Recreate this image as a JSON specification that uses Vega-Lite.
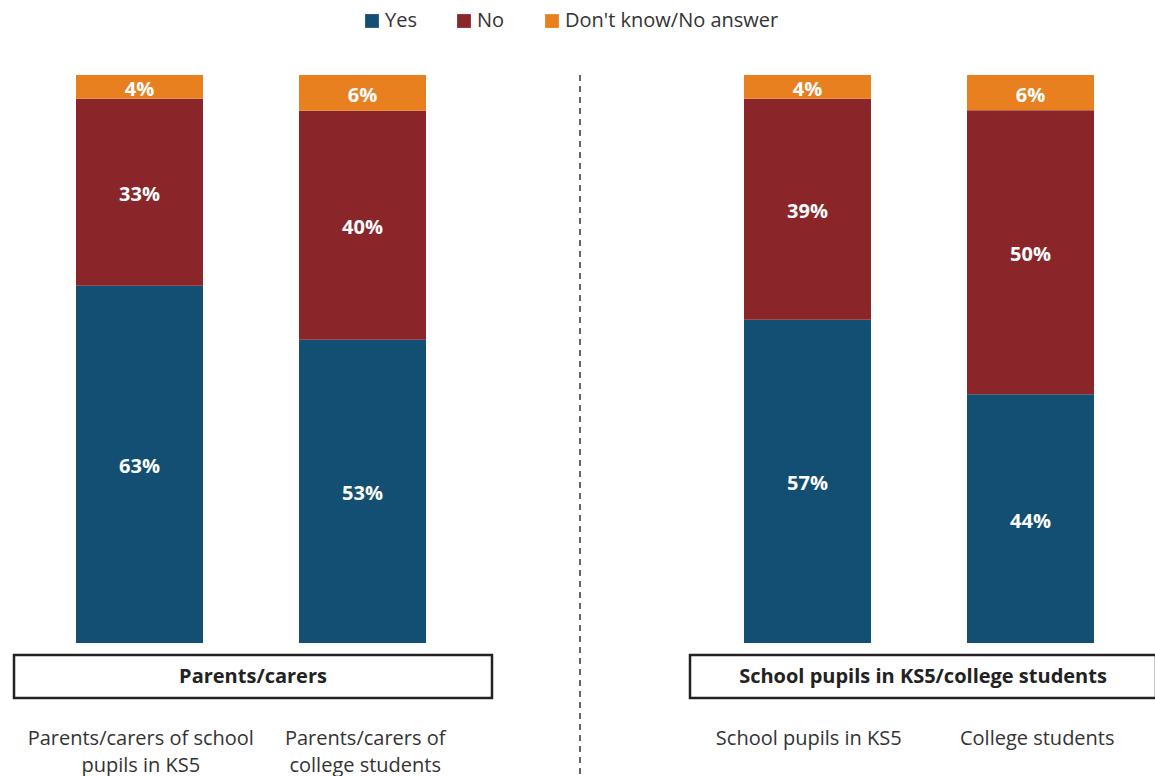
{
  "$schema": "https://vega.github.io/schema/vega-lite/v6.json",
  "padding": {"left": 12, "top": 11, "right": 0, "bottom": 0},
  "background": "white",
  "config": {
    "font": "Open Sans",
    "view": {"stroke": null},
    "legend": {
      "orient": "none",
      "legendX": 348,
      "legendY": -64,
      "direction": "horizontal",
      "title": null,
      "symbolType": "square",
      "symbolSize": 190,
      "symbolStrokeWidth": 0,
      "labelFontSize": 20,
      "labelColor": "#333333",
      "labelLimit": 0,
      "labelOffset": 3,
      "columnPadding": 37,
      "symbolOffset": 0
    }
  },
  "datasets": {
    "d": [
      {"grp": "Parents/carers", "cat": "Parents/carers of school|pupils in KS5", "resp": "Yes", "v": 0.629},
      {"grp": "Parents/carers", "cat": "Parents/carers of school|pupils in KS5", "resp": "No", "v": 0.329},
      {"grp": "Parents/carers", "cat": "Parents/carers of school|pupils in KS5", "resp": "Don't know/No answer", "v": 0.042},
      {"grp": "Parents/carers", "cat": "Parents/carers of|college students", "resp": "Yes", "v": 0.534},
      {"grp": "Parents/carers", "cat": "Parents/carers of|college students", "resp": "No", "v": 0.403},
      {"grp": "Parents/carers", "cat": "Parents/carers of|college students", "resp": "Don't know/No answer", "v": 0.063},
      {"grp": "School pupils in KS5/college students", "cat": "School pupils in KS5", "resp": "Yes", "v": 0.569},
      {"grp": "School pupils in KS5/college students", "cat": "School pupils in KS5", "resp": "No", "v": 0.389},
      {"grp": "School pupils in KS5/college students", "cat": "School pupils in KS5", "resp": "Don't know/No answer", "v": 0.042},
      {"grp": "School pupils in KS5/college students", "cat": "College students", "resp": "Yes", "v": 0.438},
      {"grp": "School pupils in KS5/college students", "cat": "College students", "resp": "No", "v": 0.5},
      {"grp": "School pupils in KS5/college students", "cat": "College students", "resp": "Don't know/No answer", "v": 0.062}
    ],
    "g1": [{"title": "Parents/carers"}],
    "g2": [{"title": "School pupils in KS5/college students"}],
    "r": [{"a": 0}]
  },
  "hconcat": [
    {
      "vconcat": [
        {
          "width": 474,
          "height": 568,
          "data": {"name": "d"},
          "transform": [{"filter": "datum.grp == 'Parents/carers'"}],
          "encoding": {
            "x": {"field": "cat", "type": "nominal", "sort": null, "axis": null, "scale": {"paddingInner": 0.4305, "paddingOuter": 0.278}},
            "y": {"field": "v", "type": "quantitative", "stack": "zero", "axis": null, "scale": {"domain": [0, 1]}},
            "order": {"field": "resp", "sort": "descending"}
          },
          "layer": [
            {
              "mark": {"type": "bar"},
              "encoding": {
                "color": {"field": "resp", "type": "nominal", "scale": {"domain": ["Yes", "No", "Don't know/No answer"], "range": ["#134f73", "#8a2529", "#e8801f"]}}
              }
            },
            {
              "mark": {"type": "text", "color": "white", "fontWeight": "bold", "fontSize": 20, "baseline": "middle", "dy": 3},
              "encoding": {
                "y": {"field": "v", "type": "quantitative", "stack": "zero", "bandPosition": 0.5},
                "text": {"field": "v", "type": "quantitative", "format": ".0%"}
              }
            }
          ]
        },
        {
          "width": 478,
          "height": 43,
          "view": {"stroke": "#222222", "strokeWidth": 2.5},
          "layer": [
            {
              "data": {"name": "d"},
              "transform": [{"filter": "datum.grp == 'Parents/carers'"}],
              "mark": {"type": "bar", "opacity": 0},
              "encoding": {
                "x": {"field": "cat", "type": "nominal", "sort": null, "title": null,
                  "scale": {"paddingInner": 0.43, "paddingOuter": 0.28},
                  "axis": {"orient": "bottom", "domain": false, "ticks": false, "labelAngle": 0, "labelPadding": 30, "labelFontSize": 20, "labelColor": "#333333", "labelBaseline": "top", "labelLineHeight": 27, "labelLimit": 0, "labelExpr": "split(datum.label, '|')"}}
              }
            },
            {
              "data": {"name": "g1"},
              "mark": {"type": "text", "fontWeight": "bold", "fontSize": 20, "color": "#222222", "baseline": "middle"},
              "encoding": {"text": {"field": "title"}}
            }
          ]
        }
      ],
      "spacing": 10,
      "resolve": {"scale": {"x": "independent"}}
    },
    {
      "width": 23,
      "height": 701,
      "data": {"name": "r"},
      "mark": {"type": "rule", "strokeDash": [6, 5], "strokeWidth": 1.5, "color": "#333333"},
      "encoding": {"x": {"datum": 0, "type": "quantitative", "scale": {"domain": [0, 23]}, "axis": null}}
    },
    {
      "vconcat": [
        {
          "width": 458,
          "height": 568,
          "data": {"name": "d"},
          "transform": [{"filter": "datum.grp == 'School pupils in KS5/college students'"}],
          "encoding": {
            "x": {"field": "cat", "type": "nominal", "sort": null, "axis": null, "scale": {"paddingInner": 0.4305, "paddingOuter": 0.242}},
            "y": {"field": "v", "type": "quantitative", "stack": "zero", "axis": null, "scale": {"domain": [0, 1]}},
            "order": {"field": "resp", "sort": "descending"}
          },
          "layer": [
            {
              "mark": {"type": "bar"},
              "encoding": {
                "color": {"field": "resp", "type": "nominal", "scale": {"domain": ["Yes", "No", "Don't know/No answer"], "range": ["#134f73", "#8a2529", "#e8801f"]}}
              }
            },
            {
              "mark": {"type": "text", "color": "white", "fontWeight": "bold", "fontSize": 20, "baseline": "middle", "dy": 3},
              "encoding": {
                "y": {"field": "v", "type": "quantitative", "stack": "zero", "bandPosition": 0.5},
                "text": {"field": "v", "type": "quantitative", "format": ".0%"}
              }
            }
          ]
        },
        {
          "width": 466,
          "height": 43,
          "view": {"stroke": "#222222", "strokeWidth": 2.5},
          "layer": [
            {
              "data": {"name": "d"},
              "transform": [{"filter": "datum.grp == 'School pupils in KS5/college students'"}],
              "mark": {"type": "bar", "opacity": 0},
              "encoding": {
                "x": {"field": "cat", "type": "nominal", "sort": null, "title": null,
                  "scale": {"paddingInner": 0.4305, "paddingOuter": 0.235},
                  "axis": {"orient": "bottom", "domain": false, "ticks": false, "labelAngle": 0, "labelPadding": 30, "labelFontSize": 20, "labelColor": "#333333", "labelBaseline": "top", "labelLineHeight": 27, "labelLimit": 0, "labelExpr": "split(datum.label, '|')"}}
              }
            },
            {
              "data": {"name": "g2"},
              "mark": {"type": "text", "fontWeight": "bold", "fontSize": 20, "color": "#222222", "baseline": "middle"},
              "encoding": {"text": {"field": "title"}}
            }
          ]
        }
      ],
      "spacing": 10,
      "resolve": {"scale": {"x": "independent"}}
    }
  ],
  "spacing": 85,
  "resolve": {"scale": {"x": "independent", "y": "independent"}}
}
